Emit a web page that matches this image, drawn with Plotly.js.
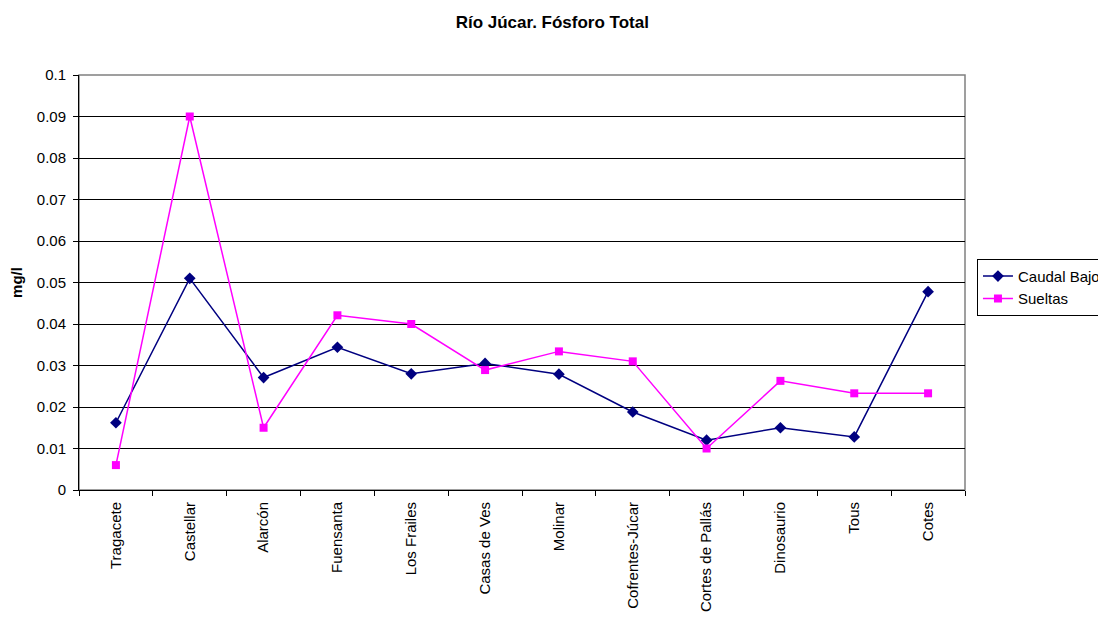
<!DOCTYPE html>
<html>
<head>
<meta charset="utf-8">
<script src="https://cdn.plot.ly/plotly-3.0.1.min.js"></script>
<style>
  html, body { margin: 0; padding: 0; background: #fff; overflow: hidden; }
  #chart { width: 1098px; height: 617px; }
</style>
</head>
<body>
<div id="chart"></div>
<script>
// Sampling stations along the river
const stations = ["Tragacete", "Castellar", "Alarcón", "Fuensanta", "Los Frailes", "Casas de Ves",
  "Molinar", "Cofrentes-Júcar", "Cortes de Pallás", "Dinosaurio", "Tous", "Cotes"];

// Total phosphorus (mg/l) per flow regime
const caudalBajo = [0.0162, 0.0510, 0.0271, 0.0344, 0.0280, 0.0305, 0.0279, 0.0188, 0.0120, 0.0150, 0.0128, 0.0478];
const sueltas    = [0.0060, 0.0900, 0.0150, 0.0421, 0.0400, 0.0289, 0.0334, 0.0310, 0.0100, 0.0263, 0.0233, 0.0233];

const yTicks = [0, 0.01, 0.02, 0.03, 0.04, 0.05, 0.06, 0.07, 0.08, 0.09, 0.1];
const yTickText = ["0", "0.01", "0.02", "0.03", "0.04", "0.05", "0.06", "0.07", "0.08", "0.09", "0.1"];

const font = "Liberation Sans, Arial, sans-serif";

const traces = [
  {
    name: "Caudal Bajo", x: stations, y: caudalBajo, type: "scatter", mode: "lines+markers",
    line: { color: "#000080", width: 1.5 },
    marker: { symbol: "diamond", size: 9, color: "#000080" }
  },
  {
    name: "Sueltas", x: stations, y: sueltas, type: "scatter", mode: "lines+markers",
    line: { color: "#FF00FF", width: 1.5 },
    marker: { symbol: "square", size: 8, color: "#FF00FF" }
  }
];

const layout = {
  width: 1098, height: 617,
  margin: { l: 79, r: 133, t: 75, b: 127, autoexpand: false },
  paper_bgcolor: "#fff", plot_bgcolor: "#fff",
  font: { family: font, size: 15, color: "#000" },
  title: {
    text: "<b>Río Júcar. Fósforo Total</b>",
    font: { family: font, size: 17, color: "#000" },
    xref: "container", x: 0.503, xanchor: "center",
    yref: "container", y: 0.965, yanchor: "middle"
  },
  xaxis: {
    type: "category", range: [-0.5, 11.5],
    tickson: "boundaries", ticks: "outside", ticklen: 5, tickcolor: "#000",
    tickangle: -90, showgrid: false, zeroline: false,
    showline: true, linecolor: "#000", linewidth: 1,
    ticklabelstandoff: 5,
    tickfont: { family: font, size: 15, color: "#000" }
  },
  yaxis: {
    range: [0, 0.1], tickvals: yTicks, ticktext: yTickText,
    ticks: "outside", ticklen: 5, tickcolor: "#000",
    showgrid: true, gridcolor: "#000", gridwidth: 1, zeroline: false,
    showline: true, linecolor: "#000", linewidth: 1,
    ticklabelstandoff: 4,
    tickfont: { family: font, size: 15, color: "#000" },
    title: { text: "<b>mg/l</b>", font: { family: font, size: 15, color: "#000" }, standoff: 10 }
  },
  shapes: [
    { type: "rect", xref: "paper", yref: "paper", x0: 0, x1: 1, y0: 0, y1: 1,
      line: { color: "#808080", width: 1.5 }, fillcolor: "rgba(0,0,0,0)", layer: "below" }
  ],
  showlegend: true,
  legend: {
    x: 1.0135, xanchor: "left", y: 0.557, yanchor: "top",
    bordercolor: "#000", borderwidth: 1, bgcolor: "#fff",
    font: { family: font, size: 15, color: "#000" },
    tracegroupgap: 0, itemwidth: 30
  }
};

Plotly.newPlot("chart", traces, layout, { displayModeBar: false, staticPlot: true });
</script>
</body>
</html>
